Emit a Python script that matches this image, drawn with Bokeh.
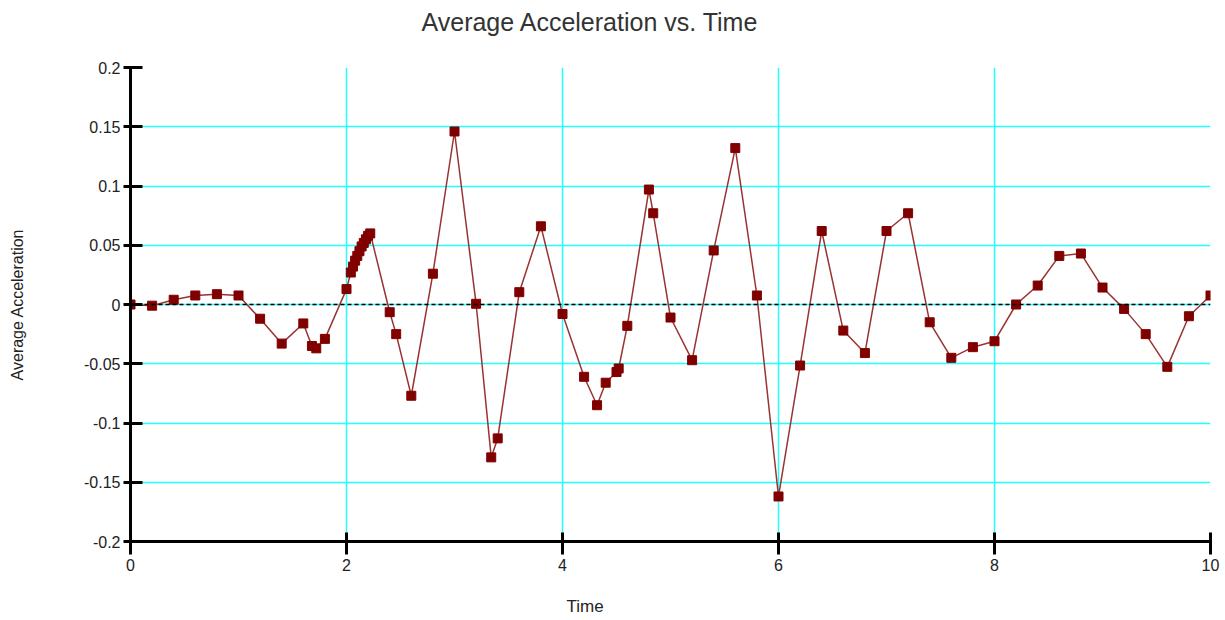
from bokeh.plotting import figure
from bokeh.models import Range1d, FixedTicker, Span, Title
from bokeh.embed import file_html
from bokeh.resources import INLINE

# ---- data ----
time = [0.0, 0.2, 0.4, 0.6, 0.8, 1.0, 1.2, 1.4, 1.6, 1.68, 1.72, 1.8, 2.0,
        2.04, 2.06, 2.08, 2.10, 2.12, 2.14, 2.16, 2.18, 2.20, 2.22,
        2.4, 2.46, 2.6, 2.8, 3.0, 3.2, 3.34, 3.4, 3.6, 3.8, 4.0, 4.2, 4.32,
        4.4, 4.5, 4.52, 4.6, 4.8, 4.84, 5.0, 5.2, 5.4, 5.6, 5.8, 6.0, 6.2,
        6.4, 6.6, 6.8, 7.0, 7.2, 7.4, 7.6, 7.8, 8.0, 8.2, 8.4, 8.6, 8.8,
        9.0, 9.2, 9.4, 9.6, 9.8, 10.0]
accel = [0.0, -0.001, 0.004, 0.0076, 0.0087, 0.0076, -0.012, -0.033, -0.016,
         -0.035, -0.037, -0.029, 0.013,
         0.027, 0.032, 0.037, 0.041, 0.045, 0.049, 0.052, 0.055, 0.058, 0.060,
         -0.0065, -0.025, -0.077, 0.026, 0.146, 0.0006, -0.129, -0.113,
         0.0104, 0.066, -0.008, -0.061, -0.085, -0.066, -0.057, -0.054,
         -0.018, 0.097, 0.077, -0.011, -0.047, 0.0456, 0.132, 0.0076,
         -0.162, -0.0515, 0.062, -0.022, -0.041, 0.062, 0.077, -0.015,
         -0.045, -0.036, -0.031, 0.0, 0.016, 0.041, 0.043, 0.0143, -0.0037,
         -0.025, -0.0526, -0.0099, 0.0076]

x_ticks = [0, 2, 4, 6, 8, 10]
x_tick_labels = ["0", "2", "4", "6", "8", "10"]
y_ticks = [-0.2, -0.15, -0.1, -0.05, 0.0, 0.05, 0.1, 0.15, 0.2]
y_tick_labels = ["-0.2", "-0.15", "-0.1", "-0.05", "0", "0.05", "0.1", "0.15", "0.2"]

title_text = "Average Acceleration vs. Time"
x_label_text = "Time"
y_label_text = "Average Acceleration"

FONT = "Liberation Sans"
TXT = "#222222"

p = figure(width=1225, height=620, output_backend="svg", toolbar_location=None,
           x_range=Range1d(0, 10), y_range=Range1d(-0.2, 0.2),
           min_border_left=130, min_border_right=15,
           min_border_top=67, min_border_bottom=79)
p.background_fill_color = "white"
p.border_fill_color = "white"
p.outline_line_color = None

# top: spacer next to frame, then the title
p.add_layout(Title(text=" ", text_font=FONT, text_font_size="25px", standoff=2), "above")
p.add_layout(Title(text=title_text, align="left", offset=291,
                   text_font=FONT, text_font_size="25px", text_font_style="normal",
                   text_color="#333333", standoff=0), "above")

# grid
p.xgrid.ticker = FixedTicker(ticks=x_ticks)
p.ygrid.ticker = FixedTicker(ticks=y_ticks)
for g in (p.xgrid, p.ygrid):
    g.grid_line_color = "#22ffff"
    g.grid_line_width = 1.5
    g.grid_line_alpha = 1.0

# axes
p.xaxis.ticker = FixedTicker(ticks=x_ticks)
p.yaxis.ticker = FixedTicker(ticks=y_ticks)
p.xaxis.major_label_overrides = {t: l for t, l in zip(x_ticks, x_tick_labels)}
p.yaxis.major_label_overrides = {t: l for t, l in zip(y_ticks, y_tick_labels)}
for ax in (p.xaxis, p.yaxis):
    ax.axis_line_color = "black"
    ax.axis_line_width = 3
    ax.major_tick_line_color = "black"
    ax.major_tick_line_width = 3
    ax.minor_tick_line_color = None
    ax.major_label_text_font = FONT
    ax.major_label_text_font_size = "16px"
    ax.major_label_text_color = TXT
    ax.axis_label_text_font = FONT
    ax.axis_label_text_font_size = "16px"
    ax.axis_label_text_font_style = "normal"
    ax.axis_label_text_color = TXT
p.xaxis.major_tick_in = 9
p.xaxis.major_tick_out = 13
p.xaxis.major_label_standoff = 4
p.yaxis.major_tick_in = 12
p.yaxis.major_tick_out = 7
p.yaxis.major_label_standoff = 3
p.yaxis.axis_label = y_label_text
p.yaxis.axis_label_standoff = 55

# bottom: spacer under the axis, then the x label
p.add_layout(Title(text=" ", text_font=FONT, text_font_size="17px", standoff=0), "below")
p.add_layout(Title(text=x_label_text, align="left", offset=436, text_font=FONT,
                   text_font_size="17px", text_font_style="normal",
                   text_color=TXT, standoff=0), "below")

# zero line
p.add_layout(Span(location=0, dimension="width", line_color="black",
                  line_width=1.5, line_dash="4 3"))

p.line(time, accel, line_color="#993333", line_width=1.5)
p.scatter(time, accel, marker="square", size=9, fill_color="#800000",
          line_color="#800000")

open("out.html", "w").write(file_html(p, INLINE))
